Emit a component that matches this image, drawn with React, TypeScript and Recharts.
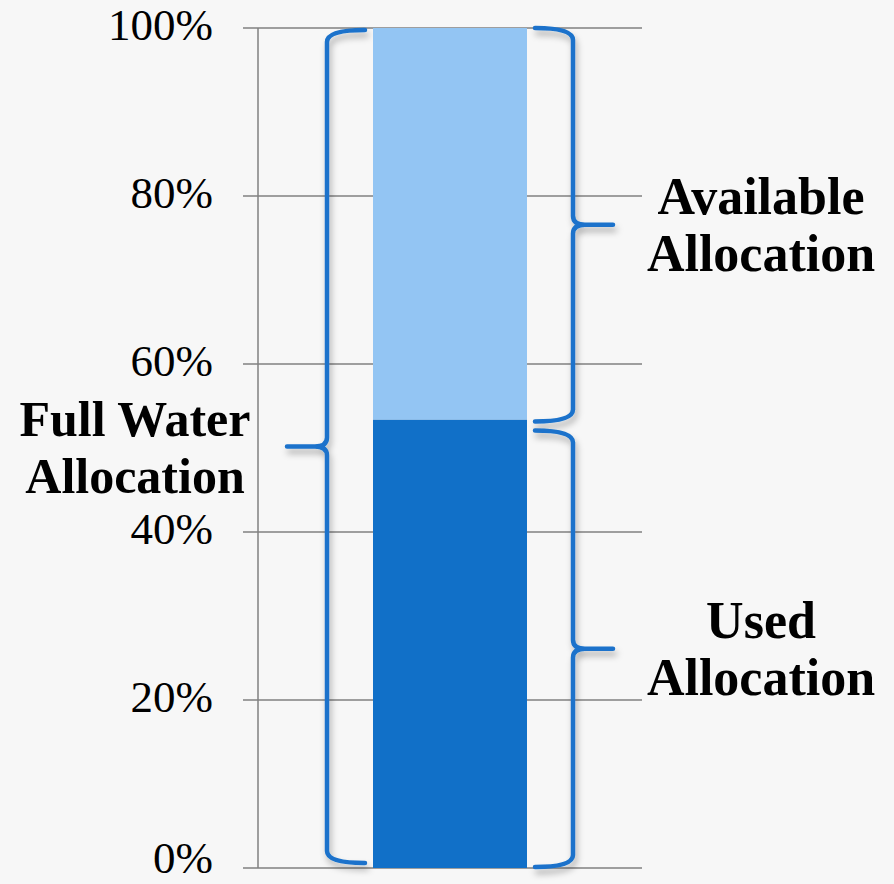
import { BarChart, Bar, XAxis, YAxis, CartesianGrid, ReferenceArea } from "recharts";

// values (percent of the full allocation)
const categories = ["Allocation"];
const usedValues = [53.4];
const availableValues = [46.6];
const yTicks = [0, 20, 40, 60, 80, 100];

const data = categories.map((name, i) => ({
  name,
  used: usedValues[i],
  available: availableValues[i],
}));

const CHART_H = 884;
const BRACE = "#1a72cb";
const SERIF = "'Liberation Serif', 'DejaVu Serif', serif";

function PercentTick(props: any) {
  const { x, y, payload } = props;
  // keep the bottom label (with its descent) inside the picture
  const baseline = Math.min(y + 12, CHART_H - 11);
  return (
    <text x={x} y={baseline} textAnchor="end" fontFamily={SERIF} fontSize={45} fill="#000">
      {`${payload.value}%`}
    </text>
  );
}

// draws a curly brace beside the plot area, using the rect ReferenceArea hands over
function makeBrace(
  side: "left" | "right",
  lines: string[],
  padTop: number,
  padBottom: number,
  fontSize: number,
  textOffset: number
) {
  return function BraceShape(props: any) {
    const { x, y, width, height } = props;
    const dir = side === "left" ? 1 : -1;
    const spine = side === "left" ? x + 69 : x + width - 69;
    const end = spine + dir * 38;
    const tip = spine - dir * 40;
    const top = y + padTop;
    const bot = y + height - padBottom;
    const mid = (top + bot) / 2;
    const r = 12;
    const d = [
      `M ${end} ${top}`,
      `Q ${spine} ${top} ${spine} ${top + r}`,
      `L ${spine} ${mid - 9}`,
      `Q ${spine} ${mid} ${spine - dir * 12} ${mid}`,
      `L ${tip} ${mid}`,
      `L ${spine - dir * 12} ${mid}`,
      `Q ${spine} ${mid} ${spine} ${mid + 9}`,
      `L ${spine} ${bot - r}`,
      `Q ${spine} ${bot} ${end} ${bot}`,
    ].join(" ");
    const tx = tip - dir * textOffset;
    return (
      <g>
        <defs>
          <filter id="braceShadow" x="-50%" y="-10%" width="200%" height="120%">
            <feDropShadow dx="2" dy="5" stdDeviation="3" floodColor="#000" floodOpacity="0.3" />
          </filter>
        </defs>
        <path
          d={d}
          fill="none"
          stroke={BRACE}
          strokeWidth={4.5}
          strokeLinecap="round"
          strokeLinejoin="round"
          filter="url(#braceShadow)"
        />
        {lines.map((t, i) => (
          <text
            key={t}
            x={tx}
            y={mid - 11 + i * 57}
            textAnchor="middle"
            fontFamily={SERIF}
            fontWeight="bold"
            fontSize={fontSize}
            fill="#000"
          >
            {t}
          </text>
        ))}
      </g>
    );
  };
}

const FullBrace = makeBrace("left", ["Full Water", "Allocation"], 2, 5, 50, 152);
const AvailableBrace = makeBrace("right", ["Available", "Allocation"], 0, -2, 52, 148);
const UsedBrace = makeBrace("right", ["Used", "Allocation"], 11, 1, 52, 148);

export default function App() {
  const total = usedValues[0] + availableValues[0];
  return (
    <div style={{ position: "absolute", left: 0, top: 0, width: 894, height: CHART_H, background: "#f7f7f7" }}>
      <BarChart
        width={894}
        height={CHART_H}
        data={data}
        margin={{ top: 28, right: 252, bottom: 16, left: 0 }}
      >
        <CartesianGrid vertical={false} stroke="#808080" strokeWidth={1.5} />
        <XAxis dataKey="name" hide />
        <YAxis
          width={258}
          domain={[0, 100]}
          ticks={yTicks}
          interval={0}
          tick={<PercentTick />}
          tickSize={15}
          tickMargin={30}
          stroke="#808080"
          strokeWidth={1.5}
        />
        <Bar dataKey="used" stackId="a" fill="#1170c8" barSize={154} isAnimationActive={false} />
        <Bar dataKey="available" stackId="a" fill="#93c5f3" barSize={154} isAnimationActive={false} />
        <ReferenceArea y1={0} y2={total} shape={FullBrace} ifOverflow="visible" />
        <ReferenceArea y1={usedValues[0]} y2={total} shape={AvailableBrace} ifOverflow="visible" />
        <ReferenceArea y1={0} y2={usedValues[0]} shape={UsedBrace} ifOverflow="visible" />
      </BarChart>
    </div>
  );
}
